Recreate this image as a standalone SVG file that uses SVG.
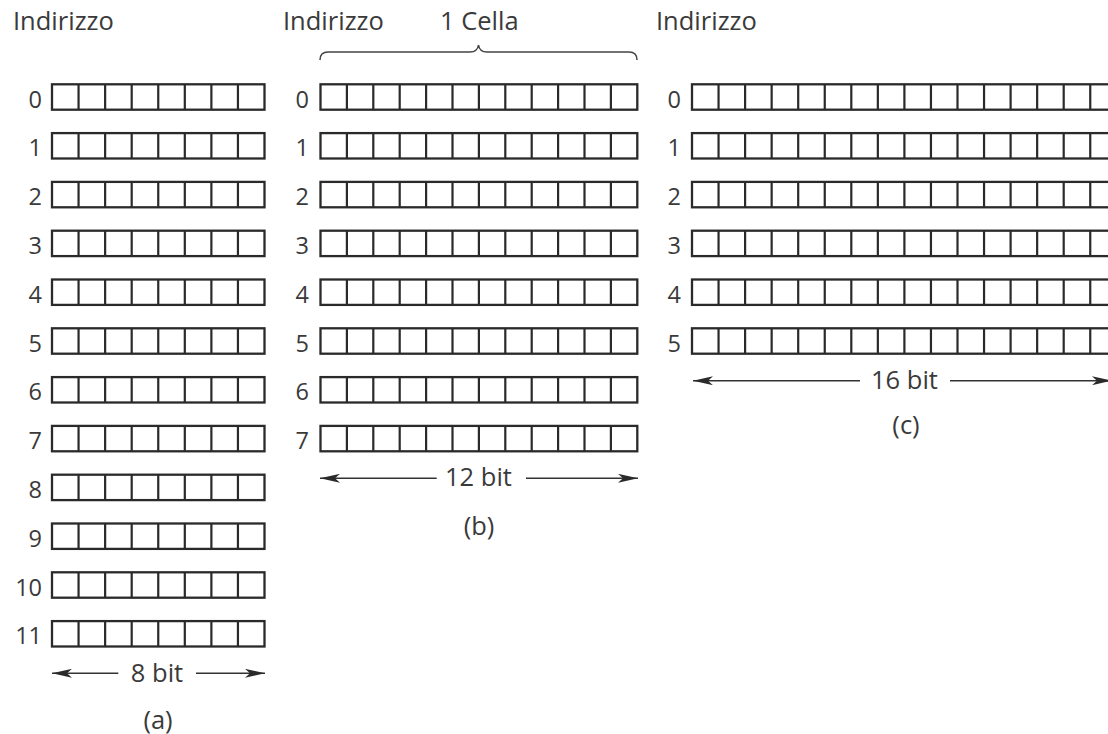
<svg xmlns="http://www.w3.org/2000/svg" xmlns:xlink="http://www.w3.org/1999/xlink" width="1108" height="734" viewBox="0 0 1108 734">
<style>
text{font-family:"Open Sans","DejaVu Sans",sans-serif;fill:#3a3a3a}
.lbl{font-size:25.5px}
.num{font-size:23.5px;text-anchor:end}
.mid{text-anchor:middle}
.box{fill:#fff;stroke:#2a2a2a;stroke-width:2.3}
.div{stroke:#2a2a2a;stroke-width:2.2}
.dim{stroke:#333;stroke-width:1.5;fill:none}
.brace{stroke:#444;stroke-width:1.5;fill:none}
</style>
<defs>
<marker id="ah" viewBox="0 0 20 9" refX="20" refY="4.5" markerWidth="20" markerHeight="9" markerUnits="userSpaceOnUse" orient="auto-start-reverse">
<path d="M0,0 L20,4.5 L0,9 L5,4.5 Z" fill="#2a2a2a"/>
</marker>
<g id="rowA">
<rect class="box" x="52" y="0" width="212.5" height="25.4"/>
<path class="div" d="M78.56,0V25.4M105.13,0V25.4M131.69,0V25.4M158.25,0V25.4M184.81,0V25.4M211.38,0V25.4M237.94,0V25.4"/>
</g>
<g id="rowB">
<rect class="box" x="320.5" y="0" width="316.8" height="25.4"/>
<path class="div" d="M346.9,0V25.4M373.3,0V25.4M399.7,0V25.4M426.1,0V25.4M452.5,0V25.4M478.9,0V25.4M505.3,0V25.4M531.7,0V25.4M558.1,0V25.4M584.5,0V25.4M610.9,0V25.4"/>
</g>
<g id="rowC">
<rect class="box" x="692" y="0" width="424.8" height="25.4"/>
<path class="div" d="M718.55,0V25.4M745.1,0V25.4M771.65,0V25.4M798.2,0V25.4M824.75,0V25.4M851.3,0V25.4M877.85,0V25.4M904.4,0V25.4M930.95,0V25.4M957.5,0V25.4M984.05,0V25.4M1010.6,0V25.4M1037.15,0V25.4M1063.7,0V25.4M1090.25,0V25.4"/>
</g>
</defs>
<rect width="1108" height="734" fill="#fff"/>

<g id="headers">
<text class="lbl" x="13" y="29.5">Indirizzo</text>
<text class="lbl" x="283" y="29.5">Indirizzo</text>
<text class="lbl" x="440" y="29.5">1 Cella</text>
<text class="lbl" x="656" y="29.5">Indirizzo</text>
</g>

<g id="memA">
<g id="a0"><use xlink:href="#rowA" y="84.3"/><text class="num" x="42" y="107.5">0</text></g>
<g id="a1"><use xlink:href="#rowA" y="133.1"/><text class="num" x="42" y="156.3">1</text></g>
<g id="a2"><use xlink:href="#rowA" y="181.9"/><text class="num" x="42" y="205.1">2</text></g>
<g id="a3"><use xlink:href="#rowA" y="230.7"/><text class="num" x="42" y="253.9">3</text></g>
<g id="a4"><use xlink:href="#rowA" y="279.5"/><text class="num" x="42" y="302.7">4</text></g>
<g id="a5"><use xlink:href="#rowA" y="328.3"/><text class="num" x="42" y="351.5">5</text></g>
<g id="a6"><use xlink:href="#rowA" y="377.1"/><text class="num" x="42" y="400.3">6</text></g>
<g id="a7"><use xlink:href="#rowA" y="425.9"/><text class="num" x="42" y="449.1">7</text></g>
<g id="a8"><use xlink:href="#rowA" y="474.7"/><text class="num" x="42" y="497.9">8</text></g>
<g id="a9"><use xlink:href="#rowA" y="523.5"/><text class="num" x="42" y="546.7">9</text></g>
<g id="a10"><use xlink:href="#rowA" y="572.3"/><text class="num" x="42" y="595.5">10</text></g>
<g id="a11"><use xlink:href="#rowA" y="621.1"/><text class="num" x="42" y="644.3">11</text></g>
<text class="lbl mid" x="157" y="681.5">8 bit</text>
<text class="lbl mid" x="158" y="728.5">(a)</text>
</g>

<g id="memB">
<g id="b0"><use xlink:href="#rowB" y="84.3"/><text class="num" x="309" y="107.5">0</text></g>
<g id="b1"><use xlink:href="#rowB" y="133.1"/><text class="num" x="309" y="156.3">1</text></g>
<g id="b2"><use xlink:href="#rowB" y="181.9"/><text class="num" x="309" y="205.1">2</text></g>
<g id="b3"><use xlink:href="#rowB" y="230.7"/><text class="num" x="309" y="253.9">3</text></g>
<g id="b4"><use xlink:href="#rowB" y="279.5"/><text class="num" x="309" y="302.7">4</text></g>
<g id="b5"><use xlink:href="#rowB" y="328.3"/><text class="num" x="309" y="351.5">5</text></g>
<g id="b6"><use xlink:href="#rowB" y="377.1"/><text class="num" x="309" y="400.3">6</text></g>
<g id="b7"><use xlink:href="#rowB" y="425.9"/><text class="num" x="309" y="449.1">7</text></g>
<text class="lbl mid" x="478.5" y="486.3">12 bit</text>
<text class="lbl mid" x="479" y="535">(b)</text>
</g>

<g id="memC">
<g id="c0"><use xlink:href="#rowC" y="84.3"/><text class="num" x="681" y="107.5">0</text></g>
<g id="c1"><use xlink:href="#rowC" y="133.1"/><text class="num" x="681" y="156.3">1</text></g>
<g id="c2"><use xlink:href="#rowC" y="181.9"/><text class="num" x="681" y="205.1">2</text></g>
<g id="c3"><use xlink:href="#rowC" y="230.7"/><text class="num" x="681" y="253.9">3</text></g>
<g id="c4"><use xlink:href="#rowC" y="279.5"/><text class="num" x="681" y="302.7">4</text></g>
<g id="c5"><use xlink:href="#rowC" y="328.3"/><text class="num" x="681" y="351.5">5</text></g>
<text class="lbl mid" x="904.5" y="389">16 bit</text>
<text class="lbl mid" x="906" y="433.5">(c)</text>
</g>

<g id="connectors">
<path class="brace" d="M320,60 Q320,52 328,52 L470,52 Q477.5,52 478.5,45 Q479.5,52 487,52 L629,52 Q637,52 637,60"/>
<line class="dim" x1="52" y1="673.3" x2="118.3" y2="673.3" marker-start="url(#ah)"/>
<line class="dim" x1="196" y1="673.3" x2="265" y2="673.3" marker-end="url(#ah)"/>
<line class="dim" x1="320" y1="478.3" x2="436.7" y2="478.3" marker-start="url(#ah)"/>
<line class="dim" x1="526" y1="478.3" x2="638" y2="478.3" marker-end="url(#ah)"/>
<line class="dim" x1="693" y1="380.7" x2="860" y2="380.7" marker-start="url(#ah)"/>
<line class="dim" x1="950" y1="380.7" x2="1112" y2="380.7" marker-end="url(#ah)"/>
</g>
</svg>
